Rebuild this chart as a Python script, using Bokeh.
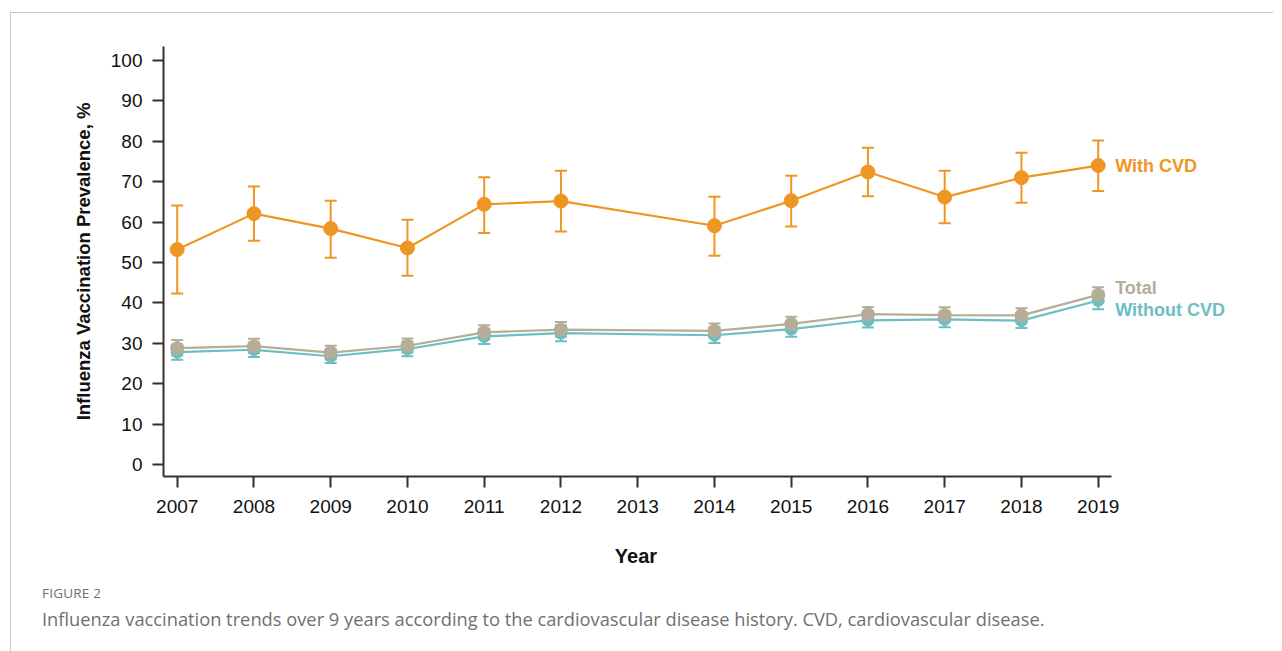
from bokeh.plotting import figure
from bokeh.models import (Range1d, FixedTicker, Whisker, TeeHead, ColumnDataSource,
                          Label, Div)
from bokeh.layouts import column
from bokeh.embed import file_html
from bokeh.resources import INLINE

# ---------------- data ----------------
years = [2007, 2008, 2009, 2010, 2011, 2012, 2014, 2015, 2016, 2017, 2018, 2019]
tick_years = [2007, 2008, 2009, 2010, 2011, 2012, 2013, 2014, 2015, 2016, 2017, 2018, 2019]

with_cvd = [53.2, 62.1, 58.4, 53.6, 64.4, 65.2, 59.1, 65.3, 72.4, 66.2, 71.0, 74.0]
with_cvd_lo = [42.3, 55.4, 51.2, 46.7, 57.3, 57.7, 51.7, 58.9, 66.4, 59.7, 64.8, 67.7]
with_cvd_hi = [64.1, 68.8, 65.3, 60.6, 71.1, 72.7, 66.3, 71.5, 78.4, 72.7, 77.2, 80.2]

total = [28.8, 29.3, 27.7, 29.4, 32.7, 33.4, 33.1, 34.8, 37.2, 37.0, 36.9, 42.0]
total_lo = [27.0, 27.6, 26.0, 27.7, 31.0, 31.6, 31.4, 33.1, 35.5, 35.3, 35.2, 40.2]
total_hi = [30.8, 31.1, 29.4, 31.2, 34.5, 35.3, 34.9, 36.6, 39.0, 38.9, 38.7, 43.9]

without_cvd = [27.8, 28.4, 26.8, 28.6, 31.7, 32.5, 32.0, 33.5, 35.7, 35.9, 35.6, 40.6]
without_lo = [25.9, 26.6, 25.1, 26.8, 29.8, 30.5, 30.1, 31.6, 33.9, 34.0, 33.8, 38.4]
without_hi = [29.7, 30.2, 28.5, 30.4, 33.6, 34.5, 33.9, 35.4, 37.5, 37.8, 37.4, 42.8]

series_names = ["With CVD", "Total", "Without CVD"]
x_title = "Year"
y_title = "Influenza Vaccination Prevalence, %"

ORANGE = "#EF9622"
GRAY = "#B5AD97"
TEAL = "#6CBEC3"
AXIS = "#35302E"
FONT = "Liberation Sans"

X0, X_AXIS_END = 2006.8215, 2019.1735
p = figure(width=1262, height=523, output_backend="svg", toolbar_location=None,
           x_range=Range1d(X0, X0 + 1070 / 76.75), y_range=Range1d(-2.97, 103.47),
           min_border_left=152, min_border_right=40, min_border_top=33, min_border_bottom=60)
p.outline_line_color = None
p.xgrid.visible = False
p.ygrid.visible = False
p.background_fill_color = None
p.border_fill_color = None

for ax in (p.xaxis[0], p.yaxis[0]):
    ax.axis_line_color = AXIS
    ax.axis_line_width = 2
    ax.major_tick_line_color = AXIS
    ax.major_tick_line_width = 2
    ax.major_tick_in = 0
    ax.major_tick_out = 11
    ax.minor_tick_line_color = None
    ax.major_label_text_font = FONT
    ax.major_label_text_font_size = "19px"
    ax.major_label_text_color = "#111111"
    ax.axis_label_text_font = FONT
    ax.axis_label_text_font_style = "bold"
    ax.axis_label_text_color = "#111111"

p.xaxis.bounds = (X0, X_AXIS_END)
p.xaxis.ticker = FixedTicker(ticks=tick_years)
p.xaxis.major_label_standoff = 12
p.yaxis.ticker = FixedTicker(ticks=list(range(0, 101, 10)))
p.yaxis.major_label_standoff = 10
p.yaxis.axis_label = y_title
p.yaxis.axis_label_text_font_size = "18.5px"
p.yaxis.axis_label_standoff = 14


def draw(vals, lo, hi, color, size):
    src = ColumnDataSource(dict(x=years, y=vals, lo=lo, hi=hi))
    p.line("x", "y", source=src, line_color=color, line_width=2.2)
    w = Whisker(base="x", lower="lo", upper="hi", source=src, line_color=color, line_width=2,
                upper_head=TeeHead(size=12, line_color=color, line_width=2),
                lower_head=TeeHead(size=12, line_color=color, line_width=2))
    p.add_layout(w)
    p.scatter("x", "y", source=src, size=size, fill_color=color, line_color=color)


draw(without_cvd, without_lo, without_hi, TEAL, 12)
draw(total, total_lo, total_hi, GRAY, 13)
draw(with_cvd, with_cvd_lo, with_cvd_hi, ORANGE, 14)

for name, vals, color, yoff in [(series_names[0], with_cvd, ORANGE, 0),
                                (series_names[1], total, GRAY, 7),
                                (series_names[2], without_cvd, TEAL, -10)]:
    p.add_layout(Label(x=years[-1], y=vals[-1], x_offset=17, y_offset=yoff, text=name,
                       text_font=FONT, text_font_size="18px", text_font_style="bold",
                       text_color=color, text_baseline="middle", text_align="left"))

cap = Div(text=(
    f'<div style="font-family:\'{FONT}\';font-weight:bold;font-size:20px;line-height:24px;'
    f'color:#111111;width:200px;margin-left:520px;margin-top:3px;text-align:center;">{x_title}</div>'
    '<div style="font-family:\'Open Sans\';color:#707070;margin-left:26px;">'
    '<div style="font-size:13.5px;line-height:18px;letter-spacing:0.2px;margin-top:16px;">FIGURE 2</div>'
    '<div style="font-size:18.3px;line-height:26px;margin-top:4px;">Influenza vaccination trends over 9 years '
    'according to the cardiovascular disease history. CVD, cardiovascular disease.</div></div>'),
    width=1200, height=110)

layout = column(p, cap, margin=(12, 0, 0, 10),
                styles={"border-top": "1px solid #c8c8c8", "border-left": "1px solid #c8c8c8"})

open("out.html", "w").write(file_html(layout, INLINE))
